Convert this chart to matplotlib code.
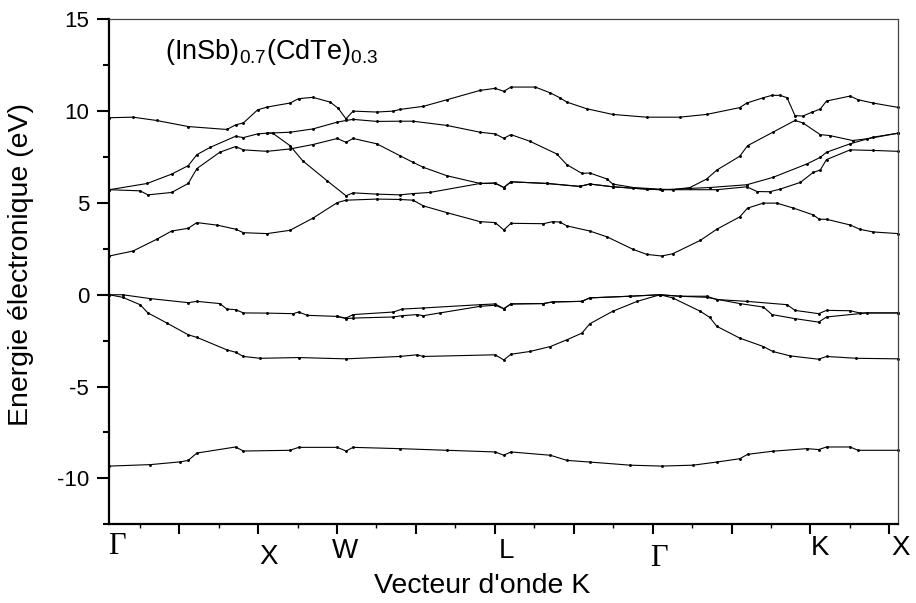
import matplotlib
matplotlib.use("Agg")
import matplotlib.pyplot as plt
from matplotlib.ticker import FixedLocator, MultipleLocator

plt.rcParams['font.family'] = ['Liberation Sans', 'DejaVu Sans']
plt.rcParams['mathtext.default'] = 'regular'
plt.rcParams['axes.unicode_minus'] = False

# k path: Gamma=0, X=2, W=3, L=5, Gamma=7, K=9, X=10
point_labels = ['Γ', 'X', 'W', 'L', 'Γ', 'K', 'X']

# valence bands
v1_k = [0, 0.52, 0.90, 1.00, 1.11, 1.60, 1.70, 2.29, 2.40, 2.89, 3.00, 3.09, 3.68, 4.28, 4.89, 5.00, 5.09,
        5.59, 5.80, 6.09, 6.60, 7.00, 7.40, 7.70, 7.99, 8.09, 8.41, 8.84, 8.99, 9.09, 9.39, 9.49, 10.0]
v1_e = [-9.33, -9.25, -9.10, -9.02, -8.62, -8.29, -8.51, -8.47, -8.31, -8.31, -8.51, -8.31, -8.38, -8.47,
        -8.56, -8.74, -8.56, -8.74, -9.02, -9.11, -9.28, -9.33, -9.28, -9.11, -8.93, -8.69, -8.52, -8.38,
        -8.43, -8.29, -8.29, -8.47, -8.47]

v2_k = [0, 0.17, 0.39, 0.49, 0.73, 1.00, 1.11, 1.49, 1.60, 1.70, 1.91, 2.40, 3.00, 3.68, 3.90, 3.98, 4.89,
        5.00, 5.09, 5.33, 5.59, 5.80, 5.99, 6.09, 6.38, 6.69, 6.98, 7.14, 7.49, 7.61, 7.70, 7.99, 8.29,
        8.41, 8.63, 8.99, 9.09, 9.47, 10.0]
v2_e = [0, -0.14, -0.54, -0.99, -1.54, -2.18, -2.32, -3.00, -3.13, -3.36, -3.46, -3.42, -3.49, -3.36, -3.27,
        -3.36, -3.27, -3.55, -3.24, -3.09, -2.82, -2.45, -2.09, -1.58, -0.90, -0.36, 0, -0.17, -0.90, -1.23,
        -1.72, -2.36, -2.82, -3.09, -3.33, -3.51, -3.36, -3.46, -3.49]

v3_k = [2.89, 3.00, 3.09, 3.60, 3.71, 3.90, 3.98, 4.19, 4.70, 4.89, 5.00, 5.09, 5.50, 5.62, 5.99, 6.09,
        6.60, 6.98, 7.23, 7.57, 7.99, 8.29, 8.40, 8.69, 8.99, 9.09, 9.60, 10.0]
v3_e = [-1.18, -1.30, -1.27, -1.21, -1.14, -1.08, -1.14, -0.99, -0.63, -0.57, -0.76, -0.50, -0.48, -0.39,
        -0.36, -0.17, -0.08, 0, -0.08, -0.14, -0.48, -0.67, -1.08, -1.30, -1.49, -1.21, -0.99, -0.99]

v4_k = [0, 0.17, 0.52, 1.00, 1.11, 1.40, 1.49, 1.60, 1.70, 2.00, 2.33, 2.40, 2.51, 2.89, 3.00, 3.09, 3.60,
        3.71, 3.98, 4.70, 4.89, 5.00, 5.09, 5.50, 5.62, 5.99, 6.09, 6.60, 6.98, 7.23, 7.57, 7.70, 8.08,
        8.59, 8.69, 8.99, 9.09, 9.39, 9.51, 10.0]
v4_e = [0, 0, -0.21, -0.43, -0.36, -0.48, -0.78, -0.81, -0.99, -1.00, -1.03, -0.94, -1.12, -1.18, -1.27,
        -1.08, -0.94, -0.78, -0.72, -0.54, -0.50, -0.76, -0.50, -0.48, -0.39, -0.36, -0.17, -0.08, 0,
        -0.08, -0.08, -0.26, -0.36, -0.54, -0.85, -1.03, -0.85, -0.87, -0.99, -0.99]

# conduction bands
c1_k = [0, 0.30, 0.60, 0.79, 1.00, 1.11, 1.37, 1.60, 1.70, 2.00, 2.29, 2.58, 2.89, 3.00, 3.39, 3.68, 3.85,
        3.98, 4.28, 4.70, 4.89, 5.00, 5.09, 5.50, 5.62, 5.71, 5.80, 6.09, 6.31, 6.64, 6.81, 7.00, 7.14,
        7.49, 7.70, 7.99, 8.09, 8.29, 8.46, 8.67, 8.92, 9.00, 9.09, 9.39, 9.51, 9.68, 10.0]
c1_e = [2.11, 2.38, 3.02, 3.47, 3.62, 3.93, 3.79, 3.57, 3.38, 3.33, 3.51, 4.17, 5.02, 5.15, 5.21, 5.19, 5.15,
        4.84, 4.47, 3.98, 3.93, 3.53, 3.89, 3.87, 3.98, 3.96, 3.75, 3.47, 3.15, 2.47, 2.20, 2.11, 2.23,
        2.96, 3.57, 4.24, 4.72, 4.99, 4.99, 4.72, 4.35, 4.11, 4.11, 3.80, 3.57, 3.42, 3.33]

c2_k = [0, 0.48, 0.79, 1.00, 1.11, 1.28, 1.60, 1.70, 1.88, 2.00, 2.29, 2.58, 2.89, 3.00, 3.09, 3.39, 3.68,
        3.85, 4.28, 4.70, 4.89, 5.00, 5.09, 5.33, 5.67, 5.80, 5.99, 6.09, 6.31, 6.38, 6.64, 6.98, 7.14,
        7.36, 7.57, 7.70, 7.99, 8.09, 8.41, 8.69, 8.79, 9.01, 9.13, 9.42, 9.60, 10.0]
c2_e = [5.72, 6.06, 6.57, 7.03, 7.63, 8.03, 8.63, 8.56, 8.76, 8.80, 8.85, 9.03, 9.40, 9.49, 9.55, 9.44, 9.45,
        9.45, 9.22, 8.85, 8.76, 8.52, 8.72, 8.36, 7.67, 7.08, 6.61, 6.63, 6.30, 6.03, 5.84, 5.75, 5.72,
        5.84, 6.30, 6.79, 7.54, 8.12, 8.85, 9.49, 9.36, 8.72, 8.67, 8.40, 8.49, 8.80]

c3_k = [0, 0.39, 0.49, 0.79, 1.00, 1.11, 1.40, 1.60, 1.70, 2.00, 2.29, 2.58, 2.89, 3.00, 3.09, 3.39, 3.68,
        3.85, 3.98, 4.28, 4.70, 4.89, 5.00, 5.09, 5.55, 5.96, 6.09, 6.38, 6.81, 7.00, 7.61, 8.08, 8.41,
        8.84, 9.01, 9.09, 9.39, 9.68, 10.0]
c3_e = [5.72, 5.66, 5.44, 5.57, 6.06, 6.87, 7.76, 8.07, 7.89, 7.81, 7.94, 8.18, 8.51, 8.30, 8.51, 8.22, 7.58,
        7.21, 6.94, 6.48, 6.06, 6.08, 5.84, 6.15, 6.06, 5.90, 6.03, 5.88, 5.75, 5.72, 5.84, 5.99, 6.39,
        7.12, 7.48, 7.76, 8.22, 8.58, 8.80]

c4_k = [2.00, 2.07, 2.29, 2.45, 2.76, 3.00, 3.09, 3.39, 3.68, 3.85, 4.06, 4.70, 4.89, 5.00, 5.09, 5.55,
        5.96, 6.09, 6.38, 6.81, 7.00, 7.70, 8.08, 8.21, 8.37, 8.50, 8.76, 8.92, 9.01, 9.09, 9.39, 9.68, 10.0]
c4_e = [8.80, 8.80, 8.12, 7.30, 6.21, 5.39, 5.55, 5.48, 5.44, 5.51, 5.57, 6.06, 6.08, 5.84, 6.15, 6.06,
        5.90, 6.03, 5.88, 5.75, 5.72, 5.72, 5.88, 5.62, 5.61, 5.75, 6.12, 6.66, 6.79, 7.36, 7.89, 7.86, 7.81]

c5_k = [0, 0.30, 0.60, 1.00, 1.49, 1.60, 1.70, 1.88, 2.00, 2.29, 2.40, 2.58, 2.80, 2.90, 3.00, 3.09, 3.39,
        3.60, 3.68, 3.98, 4.28, 4.70, 4.89, 5.00, 5.09, 5.40, 5.59, 5.71, 5.80, 6.05, 6.38, 6.81, 7.23,
        7.57, 7.99, 8.08, 8.29, 8.40, 8.50, 8.59, 8.69, 8.79, 8.91, 9.01, 9.09, 9.39, 9.49, 9.68, 10.0]
c5_e = [9.64, 9.67, 9.49, 9.16, 9.00, 9.25, 9.36, 10.07, 10.22, 10.44, 10.68, 10.75, 10.49, 10.16, 9.58,
        10.0, 9.95, 10.0, 10.09, 10.26, 10.62, 11.13, 11.24, 11.08, 11.31, 11.31, 10.99, 10.73, 10.49,
        10.13, 9.82, 9.67, 9.67, 9.82, 10.19, 10.44, 10.73, 10.86, 10.86, 10.73, 9.76, 9.73, 9.95, 10.11,
        10.55, 10.82, 10.62, 10.44, 10.2]

bands = [(v1_k, v1_e), (v2_k, v2_e), (v3_k, v3_e), (v4_k, v4_e), (c1_k, c1_e),
         (c2_k, c2_e), (c3_k, c3_e), (c4_k, c4_e), (c5_k, c5_e)]

W, H = 916, 603
fig = plt.figure(figsize=(W / 100, H / 100), dpi=100)
ax = fig.add_axes([109.3 / W, 1 - 524.3 / H, 789.0 / W, 505.0 / H])

for k, e in bands:
    ax.plot(k, e, color='black', lw=0.8, marker='.', ms=2.2, clip_on=False)

ax.set_xlim(0, 10)
ax.set_ylim(-12.5, 15)

ax.xaxis.set_major_locator(FixedLocator([j - 0.114 for j in range(1, 11)]))
ax.xaxis.set_minor_locator(FixedLocator([j - 0.614 for j in range(1, 11)]))
ax.set_xticklabels([])
ax.yaxis.set_major_locator(MultipleLocator(5))
ax.yaxis.set_minor_locator(MultipleLocator(2.5))

ax.tick_params(axis='x', which='major', direction='out', length=7.5, width=1.5)
ax.tick_params(axis='x', which='minor', direction='out', length=3, width=1.0)
ax.tick_params(axis='y', which='major', direction='out', length=8.5, width=1.5, labelsize=16, pad=6)
ax.tick_params(axis='y', which='minor', direction='out', length=4.5, width=1.5)

for s in ['left', 'bottom']:
    ax.spines[s].set_linewidth(1.6)
for s in ['top', 'right']:
    ax.spines[s].set_linewidth(0.9)
    ax.spines[s].set_color('#444444')

ax.text(0.71, 13.2, '(InSb)$_{0.7}$(CdTe)$_{0.3}$', fontsize=19.5, ha='left', va='center')

# symmetry point labels (placed by figure pixel positions)
label_px = [(117, 546), (269, 557), (345, 551), (506, 551), (659, 559), (820, 548), (901, 548)]
for name, (px, py) in zip(point_labels, label_px):
    if name == 'Γ':
        fig.text(px / W, 1 - py / H, name, fontsize=22, family='Liberation Serif', ha='center', va='center')
    else:
        fig.text(px / W, 1 - py / H, name, fontsize=20, ha='center', va='center')

fig.text(482 / W, 1 - 586 / H, "Vecteur d'onde K", fontsize=20.5, ha='center', va='center')
fig.text(21 / W, 1 - 265 / H, 'Energie électronique (eV)', fontsize=20.5, rotation=90,
         ha='center', va='center')

fig.savefig('out.png', dpi=100)
